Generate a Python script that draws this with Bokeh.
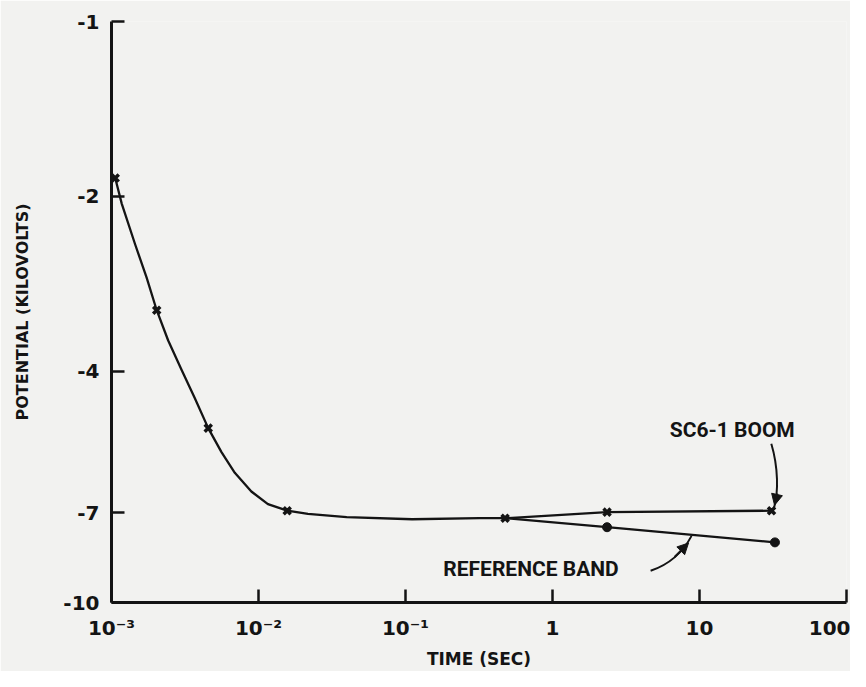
import numpy as np
from bokeh.plotting import figure
from bokeh.models import (Range1d, FixedTicker, CustomJSTickFormatter, ColumnDataSource,
                          Label, Arrow, NormalHead)
from bokeh.embed import file_html
from bokeh.resources import INLINE

# ---------------- data ----------------
# SC6-1 boom potential curve (time in s, potential in kV)
boom_curve_time = [1.06e-3, 1.175e-3, 1.449e-3, 1.734e-3, 2.03e-3, 2.43e-3, 3.0e-3, 3.69e-3,
                   4.55e-3, 5.60e-3, 6.90e-3, 8.94e-3, 0.01159, 0.01567, 0.0217, 0.0398,
                   0.111, 0.318, 0.476, 2.35, 30.9]
boom_curve_kv = [-1.86, -2.06, -2.42, -2.76, -3.14, -3.54, -3.98, -4.45,
                 -5.01, -5.51, -5.98, -6.44, -6.77, -6.95, -7.04, -7.13,
                 -7.19, -7.16, -7.16, -6.99, -6.95]
# plotted (x) markers on the boom curve
boom_marker_time = [1.06e-3, 2.03e-3, 4.55e-3, 0.01567, 0.476, 2.35, 30.9]
boom_marker_kv = [-1.86, -3.14, -5.01, -6.95, -7.16, -6.99, -6.95]
# reference band curve
band_time = [0.476, 2.35, 32.6]
band_kv = [-7.16, -7.42, -7.88]
band_marker_time = [2.35, 32.6]
band_marker_kv = [-7.42, -7.88]

# axes
x_tick_values = [1e-3, 1e-2, 1e-1, 1, 10, 100]
x_tick_labels = ["10\u207b\u00b3", "10\u207b\u00b2", "10\u207b\u00b9", "1", "10", "100"]
y_tick_values = [-1, -2, -4, -7, -10]
y_tick_labels = ["-1", "-2", "-4", "-7", "-10"]

INK = "#141414"
PAPER = "#f2f2f0"

boom_src = ColumnDataSource(dict(t=boom_curve_time, v=np.abs(boom_curve_kv)))
boom_mk = ColumnDataSource(dict(t=boom_marker_time, v=np.abs(boom_marker_kv)))
band_src = ColumnDataSource(dict(t=band_time, v=np.abs(band_kv)))
band_mk = ColumnDataSource(dict(t=band_marker_time, v=np.abs(band_marker_kv)))

p = figure(width=850, height=671, x_axis_type="log", y_axis_type="log",
           x_range=Range1d(1e-3, 100), y_range=Range1d(10, 1),
           output_backend="svg", toolbar_location=None,
           min_border_left=111, min_border_right=4, min_border_top=21, min_border_bottom=65)

p.background_fill_color = PAPER
p.border_fill_color = PAPER
p.outline_line_color = None
p.xgrid.visible = False
p.ygrid.visible = False

p.xaxis.ticker = FixedTicker(ticks=x_tick_values)
p.yaxis.ticker = FixedTicker(ticks=list(np.abs(y_tick_values)))
fmt_code = """
const lt = Math.log10(Math.abs(tick));
for (let i = 0; i < vals.length; i++) {
  if (Math.abs(Math.log10(Math.abs(vals[i])) - lt) < 1e-6) return labs[i];
}
return '';
"""
p.xaxis.formatter = CustomJSTickFormatter(args=dict(vals=x_tick_values, labs=x_tick_labels), code=fmt_code)
p.yaxis.formatter = CustomJSTickFormatter(args=dict(vals=y_tick_values, labs=y_tick_labels), code=fmt_code)

for ax in (p.xaxis[0], p.yaxis[0]):
    ax.axis_line_width = 3
    ax.axis_line_color = INK
    ax.major_tick_line_width = 2.5
    ax.major_tick_line_color = INK
    ax.major_tick_in = 13
    ax.major_tick_out = 0
    ax.minor_tick_line_color = None
    ax.major_label_text_font = "DejaVu Sans"
    ax.major_label_text_font_style = "bold"
    ax.major_label_text_font_size = "20px"
    ax.major_label_text_color = INK
    ax.axis_label_text_font = "DejaVu Sans"
    ax.axis_label_text_font_style = "bold"
    ax.axis_label_text_color = INK

p.xaxis.axis_label = "TIME (SEC)"
p.xaxis.axis_label_text_font_size = "17px"
p.xaxis.major_label_standoff = 13
p.xaxis.axis_label_standoff = 6
p.yaxis.axis_label = "POTENTIAL (KILOVOLTS)"
p.yaxis.axis_label_text_font_size = "16px"
p.yaxis.major_label_standoff = 12
p.yaxis.axis_label_standoff = 28

# curves
p.line("t", "v", source=boom_src, line_color=INK, line_width=2.3, line_join="round")
p.line("t", "v", source=band_src, line_color=INK, line_width=2.3, line_join="round")
p.scatter("t", "v", source=boom_mk, marker="x", size=10, line_color=INK, line_width=3.5)
p.scatter("t", "v", source=band_mk, marker="circle", size=9, fill_color=INK, line_color=INK)

# annotations
p.add_layout(Label(x=16.7, y=5.04, text="SC6-1 BOOM", text_align="center", text_baseline="middle",
                   text_font="Roboto", text_font_style="bold",
                   text_font_size="21px", text_color=INK))
p.add_layout(Label(x=0.714, y=8.75, text="REFERENCE BAND", text_align="center", text_baseline="middle",
                   text_font="Roboto", text_font_style="bold",
                   text_font_size="21px", text_color=INK))

p.bezier(x0=[30.8], y0=[5.33], cx0=[34.4], cy0=[5.86], cx1=[34.4], cy1=[6.46], x1=[32.2], y1=[6.86],
         line_color=INK, line_width=2)
p.add_layout(Arrow(end=NormalHead(size=11, fill_color=INK, line_color=INK),
                   x_start=33.8, y_start=6.49, x_end=32.4, y_end=6.80,
                   line_color=INK, line_width=2))

p.bezier(x0=[4.65], y0=[8.82], cx0=[6.17], cy0=[8.61], cx1=[7.67], cy1=[8.21], x1=[8.83], y1=[7.68],
         line_color=INK, line_width=2)
p.add_layout(Arrow(end=NormalHead(size=11, fill_color=INK, line_color=INK),
                   x_start=6.77, y_start=8.35, x_end=8.42, y_end=7.90,
                   line_color=INK, line_width=2))

open("out.html", "w").write(file_html(p, INLINE))
